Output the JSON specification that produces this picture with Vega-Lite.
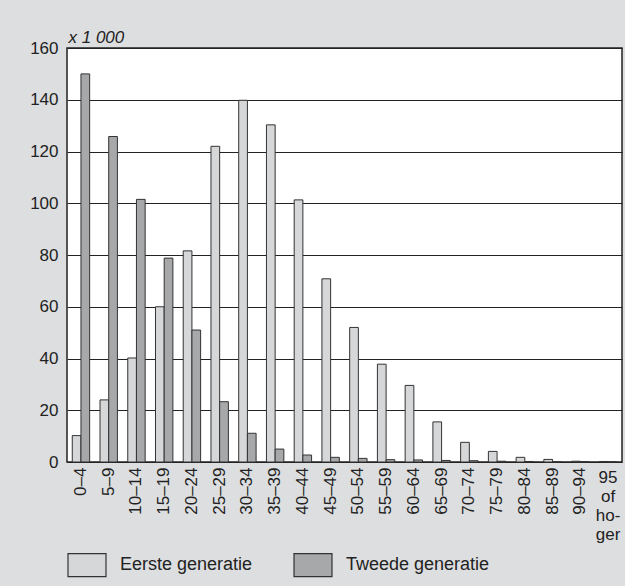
{
  "$schema": "https://vega.github.io/schema/vega-lite/v6.json",
  "width": 555,
  "height": 414,
  "autosize": {"type": "none"},
  "padding": {"left": 67, "top": 48, "right": 3, "bottom": 124},
  "background": "#dddee0",
  "config": {
    "font": "Liberation Sans",
    "view": {"fill": "white", "stroke": "#222", "strokeWidth": 1.5}
  },
  "datasets": {
    "bars": [
      {"age": "0–4", "gen": "Eerste generatie", "value": 10.2},
      {"age": "0–4", "gen": "Tweede generatie", "value": 150},
      {"age": "5–9", "gen": "Eerste generatie", "value": 24},
      {"age": "5–9", "gen": "Tweede generatie", "value": 125.8},
      {"age": "10–14", "gen": "Eerste generatie", "value": 40.2},
      {"age": "10–14", "gen": "Tweede generatie", "value": 101.5},
      {"age": "15–19", "gen": "Eerste generatie", "value": 60},
      {"age": "15–19", "gen": "Tweede generatie", "value": 78.8},
      {"age": "20–24", "gen": "Eerste generatie", "value": 81.6},
      {"age": "20–24", "gen": "Tweede generatie", "value": 51},
      {"age": "25–29", "gen": "Eerste generatie", "value": 122},
      {"age": "25–29", "gen": "Tweede generatie", "value": 23.3},
      {"age": "30–34", "gen": "Eerste generatie", "value": 139.8},
      {"age": "30–34", "gen": "Tweede generatie", "value": 11.1},
      {"age": "35–39", "gen": "Eerste generatie", "value": 130.3},
      {"age": "35–39", "gen": "Tweede generatie", "value": 5},
      {"age": "40–44", "gen": "Eerste generatie", "value": 101.3},
      {"age": "40–44", "gen": "Tweede generatie", "value": 2.7},
      {"age": "45–49", "gen": "Eerste generatie", "value": 70.8},
      {"age": "45–49", "gen": "Tweede generatie", "value": 1.8},
      {"age": "50–54", "gen": "Eerste generatie", "value": 52},
      {"age": "50–54", "gen": "Tweede generatie", "value": 1.4},
      {"age": "55–59", "gen": "Eerste generatie", "value": 37.8},
      {"age": "55–59", "gen": "Tweede generatie", "value": 0.9},
      {"age": "60–64", "gen": "Eerste generatie", "value": 29.6},
      {"age": "60–64", "gen": "Tweede generatie", "value": 0.8},
      {"age": "65–69", "gen": "Eerste generatie", "value": 15.5},
      {"age": "65–69", "gen": "Tweede generatie", "value": 0.6},
      {"age": "70–74", "gen": "Eerste generatie", "value": 7.6},
      {"age": "70–74", "gen": "Tweede generatie", "value": 0.5},
      {"age": "75–79", "gen": "Eerste generatie", "value": 4.1},
      {"age": "75–79", "gen": "Tweede generatie", "value": 0.3},
      {"age": "80–84", "gen": "Eerste generatie", "value": 1.8},
      {"age": "80–84", "gen": "Tweede generatie", "value": 0.2},
      {"age": "85–89", "gen": "Eerste generatie", "value": 1},
      {"age": "85–89", "gen": "Tweede generatie", "value": 0.1},
      {"age": "90–94", "gen": "Eerste generatie", "value": 0.3},
      {"age": "90–94", "gen": "Tweede generatie", "value": 0.1},
      {"age": "95 of hoger", "gen": "Eerste generatie", "value": 0.2},
      {"age": "95 of hoger", "gen": "Tweede generatie", "value": 0.1}
    ],
    "lastLabel": [
      {"age": "95 of hoger", "label": "95 of ho- ger", "base": 0}
    ]
  },
  "layer": [
    {
      "data": {"name": "bars"},
      "mark": {"type": "bar", "stroke": "#333", "strokeWidth": 1},
      "encoding": {
        "x": {
          "field": "age",
          "type": "nominal",
          "scale": {
            "domain": ["0–4", "5–9", "10–14", "15–19", "20–24", "25–29", "30–34", "35–39", "40–44", "45–49", "50–54", "55–59", "60–64", "65–69", "70–74", "75–79", "80–84", "85–89", "90–94", "95 of hoger"],
            "paddingInner": 0.373,
            "paddingOuter": 0.19
          },
          "axis": {
            "title": null,
            "ticks": false,
            "domain": false,
            "labelFontSize": 17,
            "labelColor": "#222",
            "labelPadding": 5,
            "labelAngle": -90,
            "labelLimit": 0,
            "labelExpr": "datum.value === '95 of hoger' ? '' : datum.label"
          }
        },
        "xOffset": {
          "field": "gen",
          "type": "nominal",
          "scale": {"domain": ["Eerste generatie", "Tweede generatie"], "paddingInner": 0, "paddingOuter": 0}
        },
        "y": {
          "field": "value",
          "type": "quantitative",
          "scale": {"domain": [0, 160], "nice": false},
          "axis": {
            "values": [0, 20, 40, 60, 80, 100, 120, 140, 160],
            "grid": true,
            "gridColor": "#222",
            "gridWidth": 1,
            "ticks": false,
            "domain": false,
            "labelFontSize": 17,
            "labelColor": "#222",
            "labelPadding": 9,
            "title": "x 1 000",
            "titleAngle": 0,
            "titleAlign": "left",
            "titleBaseline": "alphabetic",
            "titleX": 1,
            "titleY": -6,
            "titleFontSize": 17,
            "titleFontStyle": "italic",
            "titleFontWeight": "normal",
            "titleColor": "#222"
          }
        },
        "color": {
          "field": "gen",
          "type": "nominal",
          "scale": {"domain": ["Eerste generatie", "Tweede generatie"], "range": ["#d6d7d9", "#a7a8aa"]},
          "legend": {
            "title": null,
            "orient": "none",
            "direction": "horizontal",
            "legendX": 0,
            "legendY": 497,
            "padding": 0,
            "symbolType": "M-1,-0.605L1,-0.605L1,0.605L-1,0.605Z",
            "symbolSize": 1444,
            "symbolStrokeColor": "#333",
            "symbolStrokeWidth": 1.2,
            "symbolOpacity": 1,
            "labelFontSize": 18,
            "labelColor": "#222",
            "labelOffset": 13,
            "labelLimit": 0,
            "columnPadding": 38
          }
        }
      }
    },
    {
      "data": {"name": "lastLabel"},
      "mark": {
        "type": "text",
        "baseline": "top",
        "align": "center",
        "dy": 8,
        "fontSize": 17,
        "lineHeight": 19,
        "lineBreak": " ",
        "color": "#222"
      },
      "encoding": {
        "x": {"field": "age", "type": "nominal"},
        "y": {"field": "base", "type": "quantitative"},
        "text": {"field": "label"}
      }
    }
  ]
}
